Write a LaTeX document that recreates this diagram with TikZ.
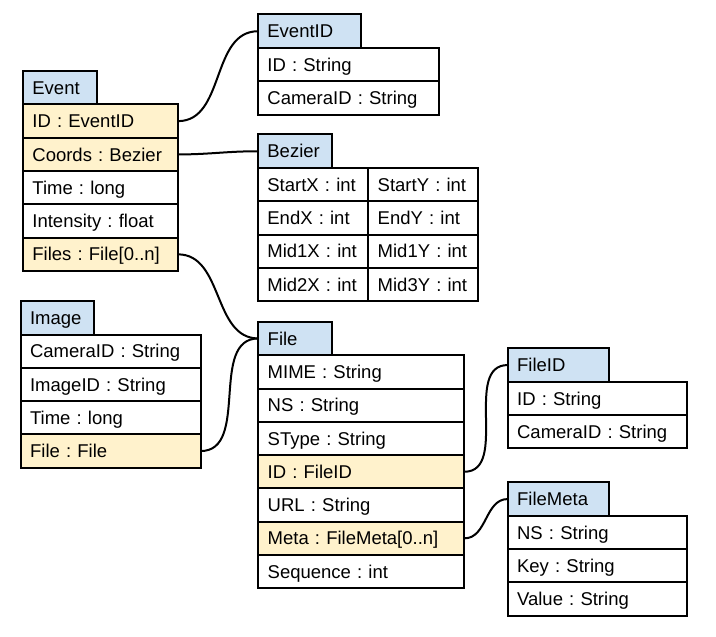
\documentclass[tikz,border=0pt]{standalone}
\usepackage{fontspec}
\setmainfont{Liberation Sans}
\definecolor{hdblue}{HTML}{CFE2F3}
\definecolor{keyyellow}{HTML}{FFF2CC}

\begin{document}
\begin{tikzpicture}[x = 0.5pt, y = -0.5pt, font = \fontsize{9.25}{11}\selectfont\frenchspacing,
    cell/.style = {draw, line width = 1pt, anchor = north west, minimum height = 16.65pt,
        inner xsep = 4.7pt, inner ysep = 0pt, text height = 6.6pt, text depth = 0pt,
        align = left, outer sep = 0pt},
    head/.style = {cell, fill = hdblue, minimum height = 16.75pt},
    ref/.style = {cell, fill = keyyellow},
    link/.style = {line width = 1pt, out = 0, in = 180}]
            \useasboundingbox (0,0) rectangle (716,636);

            % Event
            \node[head, text width = 27.6pt] (ev-hd) at (23,71) {Event};
            \node[ref, text width = 68.1pt] (ev-id) at (ev-hd.south west) {ID : EventID};
            \node[ref, text width = 68.1pt] (ev-co) at (ev-id.south west) {Coords : Bezier};
            \node[cell, text width = 68.1pt] (ev-ti) at (ev-co.south west) {Time : long};
            \node[cell, text width = 68.1pt] (ev-in) at (ev-ti.south west) {Intensity : float};
            \node[ref, text width = 68.1pt] (ev-fi) at (ev-in.south west) {Files : File[0..n]};

            % EventID
            \node[head, text width = 42.1pt] (eid-hd) at (258,14.5) {EventID};
            \node[cell, text width = 81.1pt] (eid-id) at (eid-hd.south west) {ID : String};
            \node[cell, text width = 81.1pt] (eid-ca) at (eid-id.south west) {CameraID : String};

            % Bezier
            \node[head, text width = 27.35pt] (bz-hd) at (258,134.5) {Bezier};
            \node[cell, text width = 45.75pt] (bz-sx) at (bz-hd.south west) {StartX : int};
            \node[cell, text width = 45.75pt] (bz-ex) at (bz-sx.south west) {EndX : int};
            \node[cell, text width = 45.75pt] (bz-m1x) at (bz-ex.south west) {Mid1X : int};
            \node[cell, text width = 45.75pt] (bz-m2x) at (bz-m1x.south west) {Mid2X : int};
            \node[cell, text width = 45.3pt] (bz-sy) at (bz-sx.north east) {StartY : int};
            \node[cell, text width = 45.3pt] (bz-ey) at (bz-sy.south west) {EndY : int};
            \node[cell, text width = 45.3pt] (bz-m1y) at (bz-ey.south west) {Mid1Y : int};
            \node[cell, text width = 45.3pt] (bz-m3y) at (bz-m1y.south west) {Mid3Y : int};

            % Image
            \node[head, text width = 27.1pt] (im-hd) at (20.7,301) {Image};
            \node[cell, text width = 80.6pt] (im-ca) at (im-hd.south west) {CameraID : String};
            \node[cell, text width = 80.6pt] (im-id) at (im-ca.south west) {ImageID : String};
            \node[cell, text width = 80.6pt] (im-ti) at (im-id.south west) {Time : long};
            \node[ref, text width = 80.6pt] (im-fi) at (im-ti.south west) {File : File};

            % File
            \node[head, text width = 27.6pt] (fl-hd) at (258.3,321.7) {File};
            \node[cell, text width = 93.6pt] (fl-mi) at (fl-hd.south west) {MIME : String};
            \node[cell, text width = 93.6pt] (fl-ns) at (fl-mi.south west) {NS : String};
            \node[cell, text width = 93.6pt] (fl-st) at (fl-ns.south west) {SType : String};
            \node[ref, text width = 93.6pt] (fl-id) at (fl-st.south west) {ID : FileID};
            \node[cell, text width = 93.6pt] (fl-ur) at (fl-id.south west) {URL : String};
            \node[ref, text width = 93.6pt] (fl-me) at (fl-ur.south west) {Meta : FileMeta[0..n]};
            \node[cell, text width = 93.6pt] (fl-se) at (fl-me.south west) {Sequence : int};

            % FileID
            \node[head, text width = 41.4pt] (fid-hd) at (507.7,348.3) {FileID};
            \node[cell, text width = 80.4pt] (fid-id) at (fid-hd.south west) {ID : String};
            \node[cell, text width = 80.4pt] (fid-ca) at (fid-id.south west) {CameraID : String};

            % FileMeta
            \node[head, text width = 41.4pt] (fm-hd) at (507.7,482.3) {FileMeta};
            \node[cell, text width = 80.4pt] (fm-ns) at (fm-hd.south west) {NS : String};
            \node[cell, text width = 80.4pt] (fm-ke) at (fm-ns.south west) {Key : String};
            \node[cell, text width = 80.4pt] (fm-va) at (fm-ke.south west) {Value : String};

            % links
            \draw[link] (ev-id.east) to (eid-hd.west);
            \draw[link] (ev-co.east) to (bz-hd.west);
            \draw[link] (ev-fi.east) to (fl-hd.west);
            \draw[link] (im-fi.east) to (fl-hd.west);
            \draw[link] (fl-id.east) to (fid-hd.west);
            \draw[link] (fl-me.east) to (fm-hd.west);
        \end{tikzpicture}
\end{document}
